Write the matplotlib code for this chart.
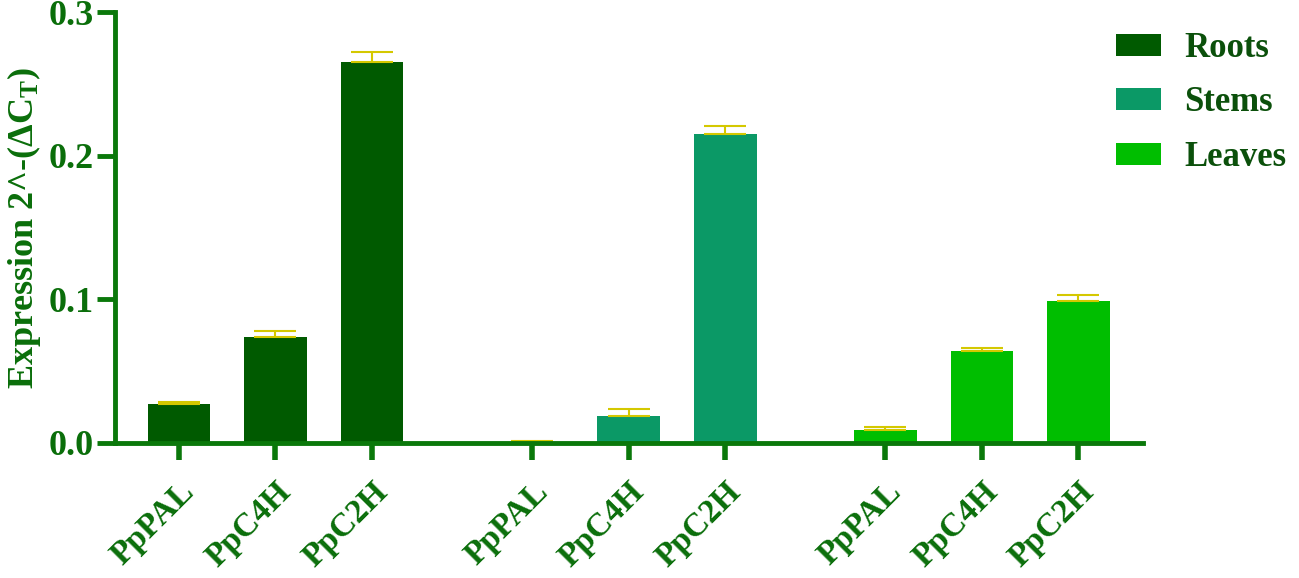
import matplotlib
matplotlib.use('Agg')
import matplotlib.pyplot as plt
from matplotlib.patches import Patch

# dados
tecidos = ['Roots', 'Stems', 'Leaves']
genes = ['PpPAL', 'PpC4H', 'PpC2H']
roots = [0.027, 0.074, 0.265]
stems = [0.0005, 0.019, 0.215]
leaves = [0.009, 0.064, 0.099]
roots_err = [0.0015, 0.004, 0.007]
stems_err = [0.0008, 0.005, 0.006]
leaves_err = [0.0018, 0.002, 0.004]

cores = ['#005A00', '#0B9966', '#00BE00']
verde_eixo = '#0A780A'
verde_texto = '#0A6E0A'
verde_legenda = '#0B500B'
cor_erro = '#D4C800'

plt.rcParams['font.family'] = ['Liberation Serif', 'DejaVu Serif']
plt.rcParams['font.weight'] = 'bold'
plt.rcParams['mathtext.default'] = 'regular'

fig = plt.figure(figsize=(12.99, 5.78), dpi=100)
ax = fig.add_axes([0.0885, 0.2336, 0.7915, 0.7456])

series = [roots, stems, leaves]
erros = [roots_err, stems_err, leaves_err]
largura = 0.65
posicoes = []
rotulos = []
for g, (vals, errs) in enumerate(zip(series, erros)):
    xs = [g * 3.66 + i for i in range(len(genes))]
    ax.bar(xs, vals, width=largura, color=cores[g], zorder=2)
    ax.errorbar(xs, vals, yerr=[[0] * len(errs), errs], fmt='none',
                ecolor=cor_erro, elinewidth=1.5, capsize=15, capthick=1.5, zorder=3)
    posicoes += xs
    rotulos += genes

ax.set_xlim(-0.663, 9.99)
ax.set_ylim(0, 0.3)
ax.set_yticks([0.0, 0.1, 0.2, 0.3])
ax.set_yticklabels(['0.0', '0.1', '0.2', '0.3'])
ax.set_xticks(posicoes)
ax.set_xticklabels(rotulos, rotation=45, ha='right', rotation_mode='anchor')

for lado in ['top', 'right']:
    ax.spines[lado].set_visible(False)
for lado in ['left', 'bottom']:
    ax.spines[lado].set_color(verde_eixo)
    ax.spines[lado].set_linewidth(3.5)
    ax.spines[lado].set_zorder(4)

ax.tick_params(axis='y', length=13, width=3.5, color=verde_eixo, labelcolor=verde_texto,
               labelsize=26, pad=2)
ax.tick_params(axis='x', length=12, width=4, color=verde_eixo, labelcolor=verde_texto,
               labelsize=24, pad=12)

ax.set_ylabel('Expression 2^-(ΔC$_{T}$)', color=verde_texto, fontsize=26,
              fontweight='bold', labelpad=4)

handles = [Patch(facecolor=c) for c in cores]
fig.legend(handles, tecidos, loc='upper left', bbox_to_anchor=(0.846, 0.975),
           frameon=False, fontsize=25, labelcolor=verde_legenda, borderpad=0,
           handlelength=1.3, handleheight=0.6, handletextpad=0.65, labelspacing=0.62)

plt.savefig('out.png', dpi=100)
